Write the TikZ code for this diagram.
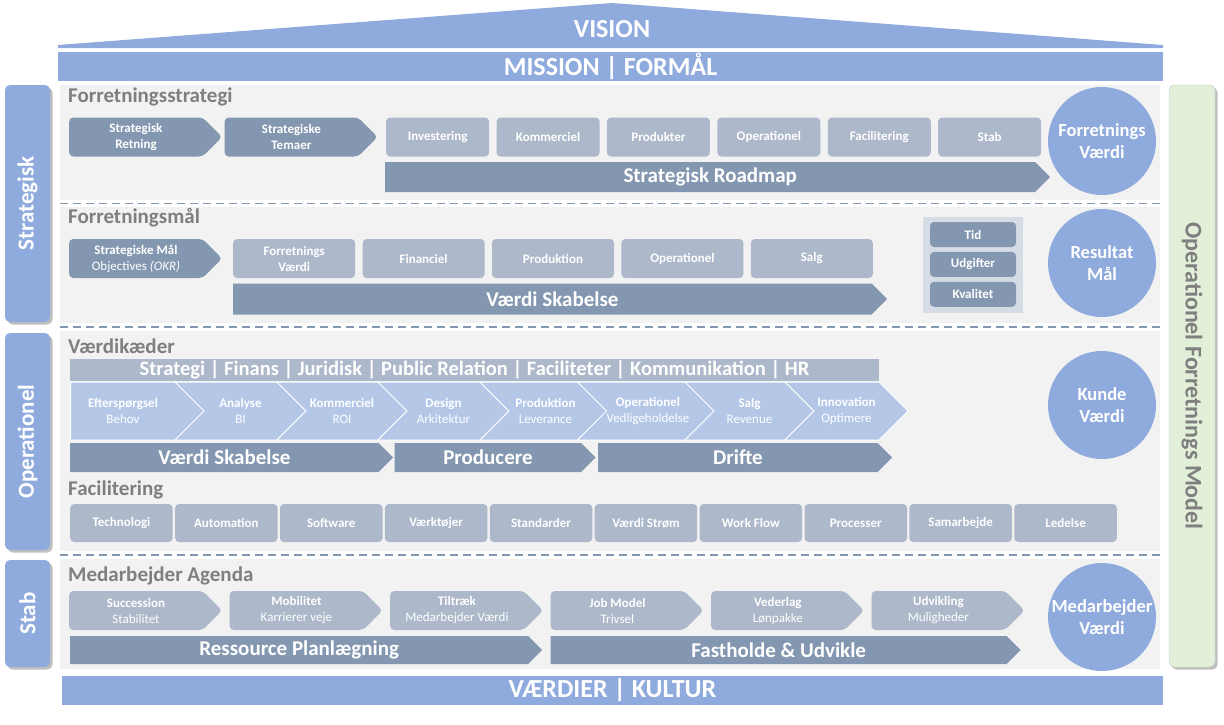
\documentclass[tikz,border=0pt]{standalone}
\usepackage{fontspec}
\setmainfont{Carlito}
\usetikzlibrary{positioning,shapes.symbols,shadows}
\definecolor{blaa}{HTML}{8FAADC}
\definecolor{moerk}{HTML}{8497B0}
\definecolor{lys}{HTML}{ADB9CA}
\definecolor{kaede}{HTML}{B4C7E7}
\definecolor{panel}{HTML}{F2F2F2}
\definecolor{maal}{HTML}{D6DCE5}
\definecolor{groen}{HTML}{E2F0D9}
\definecolor{gra}{HTML}{7F7F7F}
\newcommand{\fs}[2]{\fontsize{#1}{#2}\selectfont}
\newcommand{\lt}[1]{{\mdseries #1}}
\tikzset{
  bar/.style={rectangle, fill=blaa, text=white, font=\bfseries\fs{26}{28}, inner sep=0pt, minimum height=29pt},
  fane/.style={rectangle, rounded corners=5pt, fill=#1, drop shadow={shadow xshift=2.5pt, shadow yshift=-2.5pt, opacity=.5}},
  fanetekst/.style={rotate=#1, font=\bfseries\fs{23}{25}, inner sep=0pt},
  titel/.style={anchor=west, text=gra, font=\bfseries\fs{21}{23}, inner sep=0pt},
  boks/.style={rectangle, rounded corners=4pt, fill=#1, text=white, font=\bfseries\fs{13}{16}, align=center, inner sep=0pt},
  chev/.style={signal, signal to=east, signal pointer angle=90, rounded corners=4pt, fill=#1, text=white,
               font=\bfseries\fs{13}{16}, align=center, inner sep=0pt, minimum width=153pt, minimum height=39pt},
  pil/.style={signal, signal to=east, signal pointer angle=90, fill=moerk, text=white,
              font=\bfseries\fs{21}{23}, inner sep=0pt, minimum height=29pt},
  led/.style={signal, signal from=west, signal to=east, signal pointer angle=90, fill=kaede, draw=white, line width=1pt,
              text=white, font=\bfseries\fs{13}{16}, align=center, inner sep=0pt, minimum height=58pt},
  vaerdi/.style={circle, fill=blaa, text=white, font=\bfseries\fs{18.5}{22}, align=center, minimum size=108pt, inner sep=0pt},
  skille/.style={draw=moerk, line width=1.3pt, dash pattern=on 8pt off 5pt},
}
\begin{document}
\begin{tikzpicture}[x=1pt, y=-1pt]
  \useasboundingbox (0,0) rectangle (1224,724);
  % tag og bjaelker
  \fill[blaa] (58,48) -- (58,45) -- (612,3) -- (1163,45) -- (1163,48) -- cycle;
  \node[text=white, font=\bfseries\fs{26}{28}, inner sep=0pt] (vision) at (612,29) {VISION};
  \node[bar, minimum width=1105pt] (mission) at (610.5,66.5) {MISSION | FORMÅL};
  \node[bar, minimum width=1101pt] (kultur) at (612.5,690.5) {VÆRDIER | KULTUR};
  % paneler
  \fill[panel] (60,85) rectangle (1160,200);
  \fill[panel] (60,207) rectangle (1160,323);
  \fill[panel] (60,331) rectangle (1160,551);
  \fill[panel] (60,559) rectangle (1160,669);
  \draw[skille] (60,203.5) -- (1160,203.5);
  \draw[skille] (60,327) -- (1160,327);
  \draw[skille] (60,555) -- (1160,555);
  % faner
  \node[fane=blaa, minimum width=45pt, minimum height=237pt] (fstrat) at (27.5,203.5) {};
  \node[fanetekst=90, text=white] (fstrattxt) at (fstrat.center) {Strategisk};
  \node[fane=blaa, minimum width=45pt, minimum height=217pt] (fopr) at (27.5,441.5) {};
  \node[fanetekst=90, text=white] (foprtxt) at (fopr.center) {Operationel};
  \node[fane=blaa, minimum width=45pt, minimum height=107pt] (fstab) at (27.5,613.5) {};
  \node[fanetekst=90, text=white] (fstabtxt) at (fstab.center) {Stab};
  \node[fane=groen, draw=gray!45, minimum width=46pt, minimum height=582pt] (fmodel) at (1192,376) {};
  \node[fanetekst=-90, text=gra, font=\bfseries\fs{24}{26}] (fmodeltxt) at (fmodel.center) {Operationel Forretnings Model};

  % Forretningsstrategi
  \node[titel] (fstr) at (68,97) {Forretningsstrategi};
  \node[chev=moerk, anchor=west] (retning) at (69,137) {Strategisk\\Retning};
  \node[chev=moerk, right=2pt of retning] (temaer) {Strategiske\\Temaer};
  \node[boks=lys, minimum width=103pt, minimum height=39pt, right=8pt of temaer] (inv) {Investering};
  \node[boks=lys, minimum width=103pt, minimum height=39pt, right=7pt of inv] (kom) {Kommerciel};
  \node[boks=lys, minimum width=103pt, minimum height=39pt, right=7pt of kom] (prod) {Produkter};
  \node[boks=lys, minimum width=103pt, minimum height=39pt, right=7pt of prod] (opr) {Operationel};
  \node[boks=lys, minimum width=103pt, minimum height=39pt, right=7pt of opr] (fac) {Facilitering};
  \node[boks=lys, minimum width=103pt, minimum height=39pt, right=7pt of fac] (stab) {Stab};
  \node[pil, minimum width=665pt, minimum height=30pt, anchor=west] (roadmap) at (385,177) {Strategisk Roadmap};
  \node[vaerdi] (fvaerdi) at (1102,141) {Forretnings\\Værdi};

  % Forretningsmaal
  \node[titel] (fmaal) at (68,218) {Forretningsmål};
  \node[chev=moerk, anchor=west] (okr) at (69,258.5) {Strategiske Mål\\\lt{Objectives \textit{(OKR)}}};
  \node[boks=lys, minimum width=122pt, minimum height=39pt, anchor=west] (fv) at (233,258.5) {Forretnings\\Værdi};
  \node[boks=lys, minimum width=122pt, minimum height=39pt, right=7pt of fv] (fin) {Financiel};
  \node[boks=lys, minimum width=122pt, minimum height=39pt, right=7pt of fin] (pdk) {Produktion};
  \node[boks=lys, minimum width=122pt, minimum height=39pt, right=7pt of pdk] (opr2) {Operationel};
  \node[boks=lys, minimum width=122pt, minimum height=39pt, right=7pt of opr2] (salg) {Salg};
  \node[pil, minimum width=654pt, minimum height=31pt, anchor=west] (vskab) at (233,299) {Værdi Skabelse};
  \node[fill=maal, minimum width=100pt, minimum height=96pt, inner sep=0pt] (kpi) at (973,265) {};
  \node[boks=moerk, minimum width=86pt, minimum height=25pt] (tid) at (973,234.5) {Tid};
  \node[boks=moerk, minimum width=86pt, minimum height=25pt, below=4.5pt of tid] (udg) {Udgifter};
  \node[boks=moerk, minimum width=86pt, minimum height=25pt, below=4.5pt of udg] (kval) {Kvalitet};
  \node[vaerdi] (rmaal) at (1102,263) {Resultat\\Mål};

  % Vaerdikaeder
  \node[titel] (vk) at (68,346) {Værdikæder};
  \node[fill=lys, text=white, font=\bfseries\fs{20.5}{22}, minimum width=809pt, minimum height=22pt, inner sep=0pt]
    (stotte) at (474.5,369.5) {Strategi | Finans | Juridisk | Public Relation | Faciliteter | Kommunikation | HR};
  \node[led, signal from=nowhere, minimum width=134pt, anchor=west] (k0) at (70,411) {Efterspørgsel\\\lt{Behov}};
  \node[led, minimum width=131pt] (k1) at (240.5,411) {Analyse\\\lt{BI}};
  \node[led, minimum width=130pt] (k2) at (342,411) {Kommerciel\\\lt{ROI}};
  \node[led, minimum width=131pt] (k3) at (443.5,411) {Design\\\lt{Arkitektur}};
  \node[led, minimum width=131pt] (k4) at (545.5,411) {Produktion\\\lt{Leverance}};
  \node[led, minimum width=132pt] (k5) at (648,411) {Operationel\\\lt{Vedligeholdelse}};
  \node[led, minimum width=129pt] (k6) at (749.5,411) {Salg\\\lt{Revenue}};
  \node[led, minimum width=123pt] (k7) at (846.5,411) {Innovation\\\lt{Optimere}};
  \node[pil, minimum width=323pt, anchor=west] (vskab2) at (70,457.5) {Værdi Skabelse};
  \node[pil, minimum width=201pt, right=1pt of vskab2] (producere) {Producere};
  \node[pil, minimum width=294pt, right=2pt of producere] (drifte) {Drifte};
  \node[vaerdi] (kunde) at (1102,405) {Kunde\\Værdi};

  % Facilitering
  \node[titel] (facil) at (68,490) {Facilitering};
  \node[boks=lys, minimum width=102.5pt, minimum height=38pt, anchor=west] (tek) at (70,523) {Technologi};
  \node[boks=lys, minimum width=102.5pt, minimum height=38pt, right=2pt of tek] (aut) {Automation};
  \node[boks=lys, minimum width=102.5pt, minimum height=38pt, right=2pt of aut] (soft) {Software};
  \node[boks=lys, minimum width=102.5pt, minimum height=38pt, right=2pt of soft] (vtoj) {Værktøjer};
  \node[boks=lys, minimum width=102.5pt, minimum height=38pt, right=2pt of vtoj] (std) {Standarder};
  \node[boks=lys, minimum width=102.5pt, minimum height=38pt, right=2pt of std] (vstr) {Værdi Strøm};
  \node[boks=lys, minimum width=102.5pt, minimum height=38pt, right=2pt of vstr] (wflow) {Work Flow};
  \node[boks=lys, minimum width=102.5pt, minimum height=38pt, right=2pt of wflow] (proc) {Processer};
  \node[boks=lys, minimum width=102.5pt, minimum height=38pt, right=2pt of proc] (samb) {Samarbejde};
  \node[boks=lys, minimum width=102.5pt, minimum height=38pt, right=2pt of samb] (led) {Ledelse};

  % Medarbejder Agenda
  \node[titel] (magenda) at (68,576) {Medarbejder Agenda};
  \node[chev=lys, anchor=west] (succ) at (69,610.5) {Succession\\\lt{Stabilitet}};
  \node[chev=lys, right=7pt of succ] (mobil) {Mobilitet\\\lt{Karrierer veje}};
  \node[chev=lys, right=7pt of mobil] (tiltr) {Tiltræk\\\lt{Medarbejder Værdi}};
  \node[chev=lys, right=7pt of tiltr] (job) {Job Model\\\lt{Trivsel}};
  \node[chev=lys, right=7pt of job] (veder) {Vederlag\\\lt{Lønpakke}};
  \node[chev=lys, right=7pt of veder] (udv) {Udvikling\\\lt{Muligheder}};
  \node[pil, minimum width=472pt, minimum height=28pt, anchor=west] (ressource) at (70,650) {Ressource Planlægning};
  \node[pil, minimum width=470pt, minimum height=28pt, right=8pt of ressource] (fasthold) {Fastholde \& Udvikle};
  \node[vaerdi] (mvaerdi) at (1102,617) {Medarbejder\\Værdi};
\end{tikzpicture}
\end{document}
